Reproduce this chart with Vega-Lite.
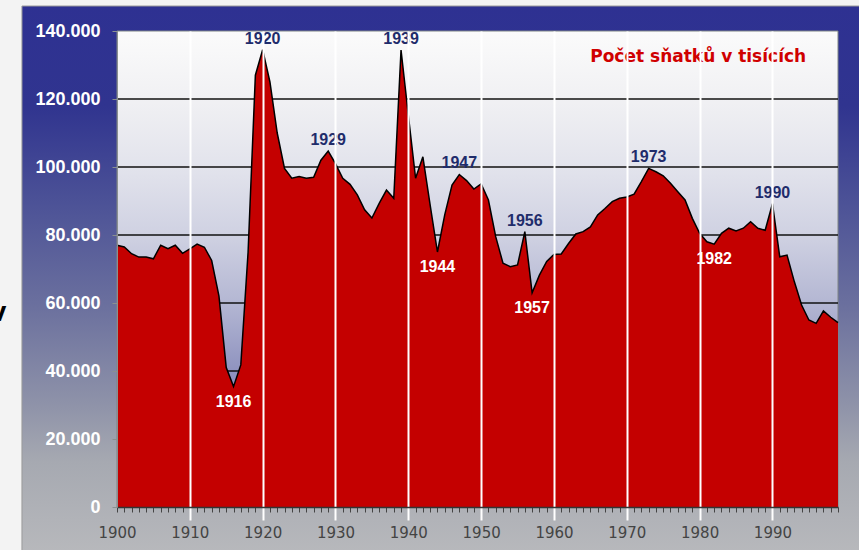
{
  "$schema": "https://vega.github.io/schema/vega-lite/v6.json",
  "autosize": {"type": "none"},
  "width": 721,
  "height": 476,
  "padding": {"left": 117, "top": 31, "right": 21, "bottom": 43},
  "background": "#f3f3f3",
  "config": {"view": {"stroke": null}},
  "data": {"values": [{}]},
  "datasets": {
    "snatky": [
      {"rok": 1900, "snatky": 77000}, {"rok": 1901, "snatky": 76500}, {"rok": 1902, "snatky": 74500},
      {"rok": 1903, "snatky": 73500}, {"rok": 1904, "snatky": 73500}, {"rok": 1905, "snatky": 73000},
      {"rok": 1906, "snatky": 77000}, {"rok": 1907, "snatky": 76000}, {"rok": 1908, "snatky": 77000},
      {"rok": 1909, "snatky": 74600}, {"rok": 1910, "snatky": 75900}, {"rok": 1911, "snatky": 77300},
      {"rok": 1912, "snatky": 76400}, {"rok": 1913, "snatky": 72500}, {"rok": 1914, "snatky": 62000},
      {"rok": 1915, "snatky": 41000}, {"rok": 1916, "snatky": 35400}, {"rok": 1917, "snatky": 41800},
      {"rok": 1918, "snatky": 75000}, {"rok": 1919, "snatky": 127000}, {"rok": 1920, "snatky": 134500},
      {"rok": 1921, "snatky": 125000}, {"rok": 1922, "snatky": 110000}, {"rok": 1923, "snatky": 99600},
      {"rok": 1924, "snatky": 96700}, {"rok": 1925, "snatky": 97200}, {"rok": 1926, "snatky": 96700},
      {"rok": 1927, "snatky": 97000}, {"rok": 1928, "snatky": 102000}, {"rok": 1929, "snatky": 104700},
      {"rok": 1930, "snatky": 101000}, {"rok": 1931, "snatky": 96700}, {"rok": 1932, "snatky": 94900},
      {"rok": 1933, "snatky": 91800}, {"rok": 1934, "snatky": 87400}, {"rok": 1935, "snatky": 85000},
      {"rok": 1936, "snatky": 89300}, {"rok": 1937, "snatky": 93200}, {"rok": 1938, "snatky": 90800},
      {"rok": 1939, "snatky": 134400}, {"rok": 1940, "snatky": 115300}, {"rok": 1941, "snatky": 96700},
      {"rok": 1942, "snatky": 103000}, {"rok": 1943, "snatky": 88800}, {"rok": 1944, "snatky": 75000},
      {"rok": 1945, "snatky": 85900}, {"rok": 1946, "snatky": 94700}, {"rok": 1947, "snatky": 97800},
      {"rok": 1948, "snatky": 96000}, {"rok": 1949, "snatky": 93500}, {"rok": 1950, "snatky": 95000},
      {"rok": 1951, "snatky": 90300}, {"rok": 1952, "snatky": 79500}, {"rok": 1953, "snatky": 71700},
      {"rok": 1954, "snatky": 70700}, {"rok": 1955, "snatky": 71200}, {"rok": 1956, "snatky": 81000},
      {"rok": 1957, "snatky": 63000}, {"rok": 1958, "snatky": 68200}, {"rok": 1959, "snatky": 72200},
      {"rok": 1960, "snatky": 74300}, {"rok": 1961, "snatky": 74400}, {"rok": 1962, "snatky": 77500},
      {"rok": 1963, "snatky": 80300}, {"rok": 1964, "snatky": 81000}, {"rok": 1965, "snatky": 82400},
      {"rok": 1966, "snatky": 85900}, {"rok": 1967, "snatky": 87800}, {"rok": 1968, "snatky": 89800},
      {"rok": 1969, "snatky": 90800}, {"rok": 1970, "snatky": 91200}, {"rok": 1971, "snatky": 92000},
      {"rok": 1972, "snatky": 95700}, {"rok": 1973, "snatky": 99600}, {"rok": 1974, "snatky": 98600},
      {"rok": 1975, "snatky": 97400}, {"rok": 1976, "snatky": 95200}, {"rok": 1977, "snatky": 92700},
      {"rok": 1978, "snatky": 90300}, {"rok": 1979, "snatky": 84900}, {"rok": 1980, "snatky": 80500},
      {"rok": 1981, "snatky": 78000}, {"rok": 1982, "snatky": 77300}, {"rok": 1983, "snatky": 80500},
      {"rok": 1984, "snatky": 82000}, {"rok": 1985, "snatky": 81200}, {"rok": 1986, "snatky": 82000},
      {"rok": 1987, "snatky": 83900}, {"rok": 1988, "snatky": 82000}, {"rok": 1989, "snatky": 81400},
      {"rok": 1990, "snatky": 89200}, {"rok": 1991, "snatky": 73600}, {"rok": 1992, "snatky": 74100},
      {"rok": 1993, "snatky": 66300}, {"rok": 1994, "snatky": 59400}, {"rok": 1995, "snatky": 55000},
      {"rok": 1996, "snatky": 54000}, {"rok": 1997, "snatky": 57700}, {"rok": 1998, "snatky": 55800},
      {"rok": 1999, "snatky": 54200}
    ],
    "popisky": [
      {"rok": 1920, "snatky": 134500, "popis": "1920", "poloha": "nad"},
      {"rok": 1929, "snatky": 104700, "popis": "1929", "poloha": "nad"},
      {"rok": 1939, "snatky": 134400, "popis": "1939", "poloha": "nad"},
      {"rok": 1947, "snatky": 97800, "popis": "1947", "poloha": "nad"},
      {"rok": 1956, "snatky": 81000, "popis": "1956", "poloha": "nad"},
      {"rok": 1973, "snatky": 99600, "popis": "1973", "poloha": "nad"},
      {"rok": 1990, "snatky": 89200, "popis": "1990", "poloha": "nad"},
      {"rok": 1916, "snatky": 35400, "popis": "1916", "poloha": "pod"},
      {"rok": 1944, "snatky": 75000, "popis": "1944", "poloha": "pod"},
      {"rok": 1957, "snatky": 63000, "popis": "1957", "poloha": "pod"},
      {"rok": 1982, "snatky": 77300, "popis": "1982", "poloha": "pod"}
    ]
  },
  "layer": [
    {
      "mark": {
        "type": "rect",
        "stroke": "#9a9a9a",
        "strokeWidth": 1,
        "fill": {
          "gradient": "linear", "x1": 0, "y1": 0, "x2": 0, "y2": 1,
          "stops": [
            {"offset": 0, "color": "#2e3192"},
            {"offset": 0.18, "color": "#30348f"},
            {"offset": 0.36, "color": "#4d5397"},
            {"offset": 0.54, "color": "#6b709e"},
            {"offset": 0.72, "color": "#8f93a9"},
            {"offset": 0.82, "color": "#a6a9b1"},
            {"offset": 1, "color": "#b9babd"}
          ]
        }
      },
      "encoding": {
        "x": {"datum": 1886.95, "type": "quantitative", "scale": {"domain": [1900, 1999], "nice": false, "zero": false}},
        "x2": {"datum": 2004},
        "y": {"datum": 147350, "type": "quantitative", "scale": {"domain": [0, 140000], "nice": false}},
        "y2": {"datum": -16000}
      }
    },
    {
      "mark": {
        "type": "rect",
        "stroke": "#7f8585",
        "strokeWidth": 1,
        "fill": {
          "gradient": "linear", "x1": 0, "y1": 0, "x2": 0, "y2": 1,
          "stops": [
            {"offset": 0, "color": "#fbfbfb"},
            {"offset": 0.15, "color": "#f0f0f3"},
            {"offset": 0.29, "color": "#e2e3ec"},
            {"offset": 0.43, "color": "#cfd1e2"},
            {"offset": 0.57, "color": "#b4b7d3"},
            {"offset": 0.71, "color": "#9094c0"},
            {"offset": 1, "color": "#6a6fae"}
          ]
        }
      },
      "encoding": {
        "x": {"datum": 1900, "type": "quantitative"},
        "x2": {"datum": 1999},
        "y": {"datum": 0, "type": "quantitative"},
        "y2": {"datum": 140000}
      }
    },
    {"mark": {"type": "rule", "color": "#111111", "strokeWidth": 1.5}, "encoding": {"y": {"datum": 20000, "type": "quantitative"}}},
    {"mark": {"type": "rule", "color": "#111111", "strokeWidth": 1.5}, "encoding": {"y": {"datum": 40000, "type": "quantitative"}}},
    {"mark": {"type": "rule", "color": "#111111", "strokeWidth": 1.5}, "encoding": {"y": {"datum": 60000, "type": "quantitative"}}},
    {"mark": {"type": "rule", "color": "#111111", "strokeWidth": 1.5}, "encoding": {"y": {"datum": 80000, "type": "quantitative"}}},
    {"mark": {"type": "rule", "color": "#111111", "strokeWidth": 1.5}, "encoding": {"y": {"datum": 100000, "type": "quantitative"}}},
    {"mark": {"type": "rule", "color": "#111111", "strokeWidth": 1.5}, "encoding": {"y": {"datum": 120000, "type": "quantitative"}}},
    {
      "data": {"name": "snatky"},
      "mark": {"type": "area", "color": "#c40000", "opacity": 1, "line": {"color": "#000000", "strokeWidth": 1.5}},
      "encoding": {
        "x": {
          "field": "rok", "type": "quantitative",
          "scale": {"domain": [1900, 1999], "nice": false, "zero": false},
          "axis": {
            "title": null,
            "tickCount": 100,
            "labelExpr": "datum.value % 10 === 0 ? '' + datum.value : ''",
            "labelOverlap": false,
            "labelFlush": false,
            "labelFont": "DejaVu Sans",
            "labelFontSize": 15,
            "labelColor": "#444444",
            "labelPadding": 5,
            "grid": true,
            "gridColor": "#ffffff",
            "gridWidth": 2,
            "gridOpacity": {"condition": {"test": "datum.value % 10 === 0 && datum.value > 1900", "value": 1}, "value": 0},
            "tickSize": 13,
            "tickColor": {"condition": {"test": "datum.value % 10 === 0 && datum.value > 1900", "value": "#ffffff"}, "value": "#444444"},
            "tickDash": {"condition": {"test": "datum.value % 10 === 0 && datum.value > 1900", "value": [13, 0]}, "value": [5, 30]},
            "tickWidth": {"condition": {"test": "datum.value % 10 === 0 && datum.value > 1900", "value": 2}, "value": 1},
            "domainColor": "#333333",
            "domainWidth": 1.5,
            "zindex": 1
          }
        },
        "y": {
          "field": "snatky", "type": "quantitative",
          "scale": {"domain": [0, 140000], "nice": false},
          "axis": {
            "title": null,
            "values": [0, 20000, 40000, 60000, 80000, 100000, 120000, 140000],
            "grid": false,
            "labelExpr": "replace(format(datum.value, ','), ',', '.')",
            "labelFont": "Liberation Sans",
            "labelFontWeight": "bold",
            "labelFontSize": 18,
            "labelColor": "#ffffff",
            "labelPadding": 12,
            "tickColor": "#8a9090",
            "tickSize": 5,
            "domainColor": "#8a9090",
            "zindex": 1
          }
        }
      }
    },
    {
      "data": {"name": "popisky"},
      "transform": [{"filter": "datum.poloha === 'nad'"}],
      "mark": {"type": "text", "baseline": "bottom", "dy": -3, "font": "Liberation Sans", "fontWeight": "bold", "fontSize": 16, "color": "#1f2c6b"},
      "encoding": {
        "x": {"field": "rok", "type": "quantitative"},
        "y": {"field": "snatky", "type": "quantitative"},
        "text": {"field": "popis", "type": "nominal"}
      }
    },
    {
      "data": {"name": "popisky"},
      "transform": [{"filter": "datum.poloha === 'pod'"}],
      "mark": {"type": "text", "baseline": "top", "dy": 7, "font": "Liberation Sans", "fontWeight": "bold", "fontSize": 16, "color": "#ffffff"},
      "encoding": {
        "x": {"field": "rok", "type": "quantitative"},
        "y": {"field": "snatky", "type": "quantitative"},
        "text": {"field": "popis", "type": "nominal"}
      }
    },
    {
      "mark": {"type": "text", "align": "center", "baseline": "middle", "font": "DejaVu Sans", "fontWeight": "bold", "fontSize": 17, "color": "#d00000"},
      "encoding": {
        "x": {"datum": 1979.8, "type": "quantitative"},
        "y": {"datum": 132350, "type": "quantitative"},
        "text": {"value": "Počet sňatků v tisících"}
      }
    },
    {
      "mark": {"type": "text", "align": "right", "baseline": "middle", "font": "Liberation Sans", "fontWeight": "bold", "fontSize": 28, "color": "#000000"},
      "encoding": {
        "x": {"datum": 1884.8, "type": "quantitative"},
        "y": {"datum": 57000, "type": "quantitative"},
        "text": {"value": "v"}
      }
    }
  ]
}
